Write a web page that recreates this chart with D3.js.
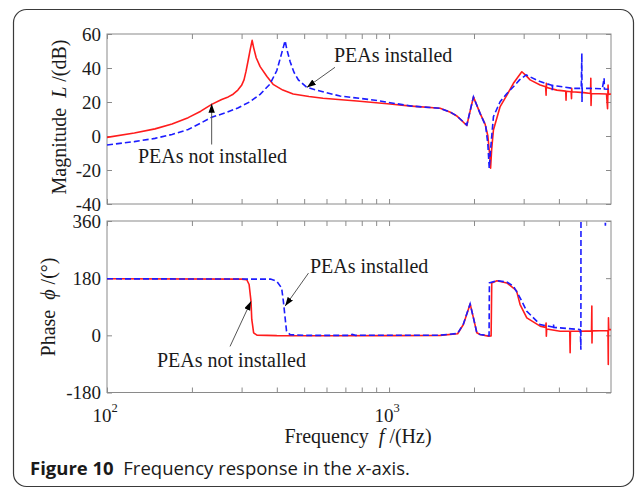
<!DOCTYPE html>
<html>
<head>
<meta charset="utf-8">
<script src="https://cdn.jsdelivr.net/npm/d3@7"></script>
<style>
  body { margin: 0; background: #fff; }
  svg text { font-family: "Liberation Serif", "Times New Roman", serif; fill: #1a1a1a; white-space: pre; }
  .caption { font-family: "Open Sans", sans-serif; }
</style>
</head>
<body>
<script>
// Values: [frequency (Hz), value]
const magNotInstalled = [
  [100, -0.8], [125, 1.8], [148, 4.2], [170, 7], [194, 10.8], [215, 14.6], [235, 18.6],
  [255, 21.5], [269, 23], [280, 24.6], [291, 27], [300, 29.8], [306, 33], [311, 38], [317, 45],
  [322, 51], [327, 56.3], [331, 52], [338, 46], [349, 40.8], [369, 35], [388, 30.4],
  [420, 27], [457, 24.7], [520, 23.2], [583, 22.2], [769, 20.6], [1008, 18.8], [1200, 17.6],
  [1517, 16.3], [1650, 14], [1738, 11.8], [1886, 6.2], [1991, 23], [2102, 13.3], [2190, 7],
  [2240, 0], [2270, -10], [2290, -19], [2310, -8], [2344, 3.5], [2476, 17.3], [2616, 24],
  [2759, 31], [2955, 37.8], [3061, 35.5], [3162, 33], [3432, 30], [3590, 29], [3603, 24],
  [3610, 31], [3620, 28.5], [3933, 27], [4230, 26.4], [4240, 21], [4250, 26.3], [4420, 26],
  [4434, 22], [4440, 28], [4450, 26], [4900, 25.5], [5180, 25], [5190, 34], [5200, 18],
  [5215, 25], [5900, 24.7], [5950, 16], [5975, 30], [5995, 24.5], [6120, 24.7]
];
const magInstalled = [
  [100, -5.3], [125, -3.3], [148, -1.4], [170, 0.9], [194, 3.8], [215, 7.6], [235, 11],
  [265, 13.8], [291, 16.5], [320, 20], [349, 24.5], [378, 30.5], [400, 38.5], [416, 48.6],
  [428, 56], [434, 51], [446, 43.7], [460, 37.5], [477, 33], [511, 28.6], [554, 27],
  [600, 25.5], [670, 23.5], [878, 21.2], [1008, 19.6], [1200, 17.6], [1517, 16.3], [1650, 14],
  [1738, 11.8], [1886, 6.5], [1991, 23], [2102, 13.3], [2200, 6], [2240, -5], [2265, -19],
  [2290, -8], [2344, 11.4], [2476, 20.2], [2616, 25], [2759, 29], [2900, 33], [3061, 35.9],
  [3432, 32], [3776, 29.8], [3790, 27], [3800, 29.7], [3933, 29.4], [4494, 28], [4800, 28],
  [4824, 48.6], [4830, 20], [4840, 28], [5162, 28], [5700, 27.8], [5786, 34], [5800, 27.6],
  [6120, 27.5]
];
const phaseNotInstalled = [
  [100, 178], [300, 177], [313, 175], [319, 160], [324, 107], [326, 50], [328, 34], [331, 8],
  [340, 0.6], [400, -1], [600, -1.5], [1000, -1], [1517, 0], [1750, 5], [1834, 34], [1938, 99],
  [1991, 55], [2047, 8], [2102, 2.5], [2249, -2.5], [2300, -2], [2312, 165], [2412, 172],
  [2616, 165], [2759, 149], [2831, 140], [2914, 97], [3078, 55], [3432, 29], [3590, 25],
  [3603, 39], [3610, -2.5], [3620, 20], [4041, 13], [4370, 13], [4384, -55], [4395, 13],
  [4763, 13], [5220, 14], [5234, 92], [5240, -24], [5250, 14], [5970, 15], [5986, -92],
  [5995, 55], [6010, 18], [6120, 18]
];
const phaseInstalled = [
  [100, 178], [380, 177], [400, 170], [416, 149], [422, 107], [428, 55], [433, 13], [446, 2],
  [500, 0], [727, 0], [740, 3], [760, 0], [1517, 0.5], [1750, 6], [1834, 36], [1938, 99],
  [1991, 55], [2047, 8], [2102, 2.5], [2262, -1], [2268, 165], [2412, 172], [2616, 168],
  [2759, 155], [2914, 118], [3078, 76], [3432, 34], [3810, 26], [3825, 36], [3840, 25],
  [4041, 23.6], [4763, 18], [4786, -45], [4790, 380], [5830, 378], [5846, 345], [5860, 380],
  [6120, 380]
];
const magTicks = [-40, -20, 0, 20, 40, 60];
const phaseTicks = [-180, 0, 180, 360];
const freqTicks = [100, 200, 300, 400, 500, 600, 700, 800, 900, 1000, 2000, 3000, 4000, 5000];
const decadeTicks = [[100, '2'], [1000, '3']];

const width = 637, height = 490;
const svg = d3.select('body').append('svg').attr('width', width).attr('height', height);

// figure frame
svg.append('rect')
  .attr('x', 13.5).attr('y', 9.5).attr('width', 620).attr('height', 477).attr('rx', 13)
  .attr('fill', 'none').attr('stroke', '#3a3a3a').attr('stroke-width', 1.2);

const x = d3.scaleLog().domain([100, 6120]).range([107, 611]);
const yMag = d3.scaleLinear().domain([-40, 60]).range([204, 34]);
const yPh = d3.scaleLinear().domain([-180, 360]).range([392.5, 221]);

const defs = svg.append('defs');
defs.append('marker')
  .attr('id', 'head').attr('markerUnits', 'userSpaceOnUse')
  .attr('markerWidth', 10).attr('markerHeight', 7).attr('refX', 9).attr('refY', 3.2)
  .attr('orient', 'auto')
  .append('path').attr('d', 'M0,0 L9,3.2 L0,6.4 Z').attr('fill', '#000');

function drawPanel(y, yTicks, id, red, blue) {
  const [x0, x1] = x.range();
  const [yb, yt] = y.range();
  defs.append('clipPath').attr('id', id)
    .append('rect').attr('x', x0).attr('y', yt).attr('width', x1 - x0).attr('height', yb - yt);

  const g = svg.append('g');
  const axes = [
    [d3.axisBottom(x).tickValues(freqTicks).tickFormat(''), `translate(0,${yb})`],
    [d3.axisTop(x).tickValues(freqTicks).tickFormat(''), `translate(0,${yt})`],
    [d3.axisLeft(y).tickValues(yTicks).tickPadding(6).tickFormat(d => String(d)), `translate(${x0},0)`],
    [d3.axisRight(y).tickValues(yTicks).tickFormat(''), `translate(${x1},0)`]
  ];
  axes.forEach(([ax, tr]) => {
    const a = g.append('g').attr('transform', tr).call(ax.tickSize(-5));
    a.select('.domain').remove();
    a.selectAll('line').attr('stroke', '#8a8a8a');
    a.selectAll('text').attr('font-size', 19).attr('font-family', null).attr('fill', '#1a1a1a');
  });
  g.append('rect').attr('x', x0).attr('y', yt).attr('width', x1 - x0).attr('height', yb - yt)
    .attr('fill', 'none').attr('stroke', '#8a8a8a');

  const line = d3.line().x(d => x(d[0])).y(d => y(d[1]));
  const c = svg.append('g').attr('clip-path', `url(#${id})`);
  c.append('path').datum(red).attr('d', line)
    .attr('fill', 'none').attr('stroke', '#ff1c1c').attr('stroke-width', 1.6)
    .attr('stroke-linejoin', 'round');
  c.append('path').datum(blue).attr('d', line)
    .attr('fill', 'none').attr('stroke', '#1c1cff').attr('stroke-width', 1.6)
    .attr('stroke-dasharray', '6,3');
  return g;
}

drawPanel(yMag, magTicks, 'clipMag', magNotInstalled, magInstalled);
drawPanel(yPh, phaseTicks, 'clipPh', phaseNotInstalled, phaseInstalled);

// decade labels 10^2, 10^3
decadeTicks.forEach(([f, p]) => {
  const t = svg.append('text').attr('x', x(f) - 2).attr('y', 422)
    .attr('text-anchor', 'middle').attr('font-size', 19);
  t.append('tspan').text('10');
  t.append('tspan').attr('dy', -10).attr('font-size', 12.5).text(p);
});

// axis titles
const xt = svg.append('text').attr('x', 358).attr('y', 443).attr('text-anchor', 'middle').attr('font-size', 20);
xt.append('tspan').text('Frequency  ');
xt.append('tspan').attr('font-style', 'italic').text('f');
xt.append('tspan').text(' /(Hz)');

const yt1 = svg.append('text').attr('transform', 'translate(66,117) rotate(-90)')
  .attr('text-anchor', 'middle').attr('font-size', 20);
yt1.append('tspan').text('Magnitude  ');
yt1.append('tspan').attr('font-style', 'italic').text('L');
yt1.append('tspan').text(' /(dB)');

const yt2 = svg.append('text').attr('transform', 'translate(55,307) rotate(-90)')
  .attr('text-anchor', 'middle').attr('font-size', 20);
yt2.append('tspan').text('Phase  ');
yt2.append('tspan').attr('font-style', 'italic').text('ϕ');
yt2.append('tspan').text(' /(°)');

// annotations
function arrow(y, from, to) {
  svg.append('line')
    .attr('x1', x(from[0])).attr('y1', y(from[1]))
    .attr('x2', x(to[0])).attr('y2', y(to[1]))
    .attr('stroke', '#555').attr('stroke-width', 1)
    .attr('marker-end', 'url(#head)');
}
function note(px, py, s) {
  svg.append('text').attr('x', px).attr('y', py).attr('font-size', 20).text(s);
}
arrow(yMag, [235, -5], [235, 19]);
arrow(yMag, [643, 40.4], [511, 28.6]);
arrow(yPh, [518, 196], [428, 92]);
arrow(yPh, [273, -35], [324, 107]);
note(334, 62, 'PEAs installed');
note(138, 163, 'PEAs not installed');
note(310, 273, 'PEAs installed');
note(157, 367, 'PEAs not installed');

// caption
const cap = svg.append('text').attr('class', 'caption').attr('x', 30).attr('y', 475).attr('font-size', 18.5);
cap.append('tspan').attr('font-weight', 'bold').text('Figure 10');
cap.append('tspan').text('  Frequency response in the ');
cap.append('tspan').attr('font-style', 'italic').text('x');
cap.append('tspan').text('-axis.');
</script>
</body>
</html>
